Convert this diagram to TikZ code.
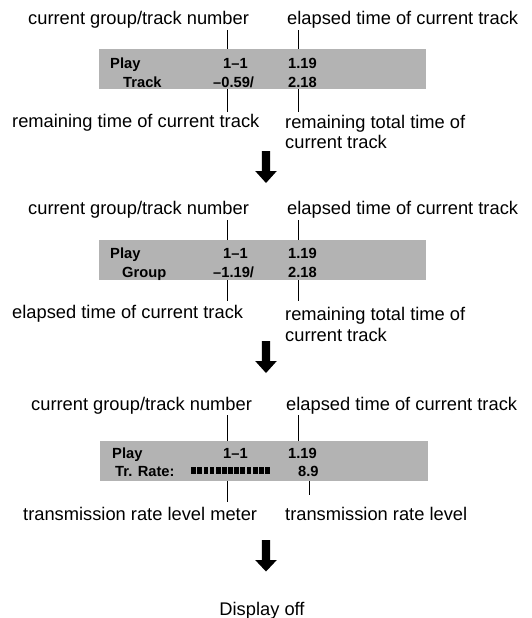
\documentclass[tikz,border=0pt]{standalone}
\usepackage{fontspec}
\setmainfont{Liberation Sans}
\usetikzlibrary{positioning}

\definecolor{lcdgray}{RGB}{179,179,179}

\begin{document}
\begin{tikzpicture}[
  x=1pt, y=-1pt,
  lbl/.style={inner sep=0pt, anchor=base west, font=\fontsize{18.3}{20.5}\selectfont},
  lbltwo/.style={lbl, anchor=north west, align=left},
  disp/.style={inner sep=0pt, anchor=base west, font=\fontsize{14.7}{16}\selectfont\bfseries},
  lcd/.style={fill=lcdgray, inner sep=0pt, anchor=north west, minimum width=327pt, minimum height=40pt},
  lead/.style={line width=0.9pt},
  bar/.style={fill=black, inner sep=0pt, anchor=north west, minimum width=4.8pt, minimum height=7pt},
  down/.style={fill=black}
]
\useasboundingbox (0,0) rectangle (531,618);

% --- display 1: track remaining time
\node[lcd] (box1) at (99,49) {};
\node[lbl] (num1) at (28,24.5) {current group/track number};
\node[lbl] (ela1) at (287,24.5) {elapsed time of current track};
\node[disp] (play1) at (110,68) {Play};
\node[disp] (trk1) at (223,68) {1–1};
\node[disp] (tim1) at (288,68) {1.19};
\node[disp] (mode1) at (123,87) {Track};
\node[disp] (rem1) at (213,87) {–0.59/};
\node[disp] (tot1) at (288,87) {2.18};
\node[lbl] (remt1) at (12,127.7) {remaining time of current track};
\node[lbltwo] (remg1) at (285,114.7) {remaining total time of\\current track};
\draw[lead] (box1.north -| 227,0) -- ++(0,-19);
\draw[lead] (box1.north -| 298,0) -- ++(0,-19);
\draw[lead] (box1.south -| 227,0) -- ++(0,23);
\draw[lead] (box1.south -| 298,0) -- ++(0,23);

\coordinate (ar1) at (266,151);
\fill[down] (ar1) +(-4.2,0) -- +(4.2,0) -- +(4.2,20) -- +(10.8,20) -- +(0,32)
  -- +(-10.8,20) -- +(-4.2,20) -- cycle;

% --- display 2: group remaining time
\node[lcd] (box2) at (99,240) {};
\node[lbl] (num2) at (28,214.5) {current group/track number};
\node[lbl] (ela2) at (287,214.5) {elapsed time of current track};
\node[disp] (play2) at (110,258) {Play};
\node[disp] (trk2) at (223,258) {1–1};
\node[disp] (tim2) at (288,258) {1.19};
\node[disp] (mode2) at (122,277) {Group};
\node[disp] (rem2) at (213,277) {–1.19/};
\node[disp] (tot2) at (288,277) {2.18};
\node[lbl] (elat2) at (12,318) {elapsed time of current track};
\node[lbltwo] (remg2) at (285,307.2) {remaining total time of\\current track};
\draw[lead] (box2.north -| 227,0) -- ++(0,-20);
\draw[lead] (box2.north -| 298,0) -- ++(0,-20);
\draw[lead] (box2.south -| 227,0) -- ++(0,21);
\draw[lead] (box2.south -| 298,0) -- ++(0,21);

\coordinate (ar2) at (266,341);
\fill[down] (ar2) +(-4.2,0) -- +(4.2,0) -- +(4.2,20) -- +(10.8,20) -- +(0,32)
  -- +(-10.8,20) -- +(-4.2,20) -- cycle;

% --- display 3: transmission rate
\node[lcd, minimum width=328pt] (box3) at (100,441) {};
\node[lbl] (num3) at (31,410) {current group/track number};
\node[lbl] (ela3) at (286,410) {elapsed time of current track};
\node[disp] (play3) at (112,458) {Play};
\node[disp] (trk3) at (223,458) {1–1};
\node[disp] (tim3) at (288,458) {1.19};
\node[disp] (mode3) at (115,476) {Tr. Rate:};
\foreach \i in {0,...,12}
  \node[bar] (m\i) at (191+\i*6.15,467) {};
\node[disp] (rate3) at (298,476) {8.9};
\node[lbl] (tmet3) at (23,520) {transmission rate level meter};
\node[lbl] (tlev3) at (285,520) {transmission rate level};
\draw[lead] (box3.north -| 227,0) -- ++(0,-26);
\draw[lead] (box3.north -| 298,0) -- ++(0,-26);
\draw[lead] (box3.south -| 227,0) -- ++(0,21);
\draw[lead] (box3.south -| 309,0) -- ++(0,14);

\coordinate (ar3) at (266,540);
\fill[down] (ar3) +(-4.2,0) -- +(4.2,0) -- +(4.2,20) -- +(10.8,20) -- +(0,31.5)
  -- +(-10.8,20) -- +(-4.2,20) -- cycle;

\node[lbl, anchor=base] (off) at (262,615) {Display off};
\end{tikzpicture}
\end{document}
